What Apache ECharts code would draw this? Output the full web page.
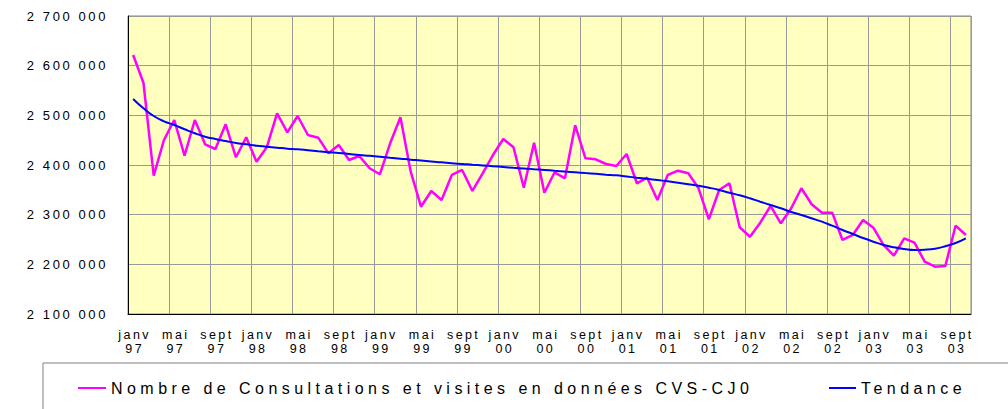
<!DOCTYPE html>
<html>
<head>
    <meta charset="utf-8" />
    <title>Consultations et visites CVS-CJ0</title>
    <script src="https://cdn.jsdelivr.net/npm/echarts@6/dist/echarts.min.js"></script>
    <style>
        html, body { margin: 0; padding: 0; background: #fff; }
        #main { width: 1008px; height: 409px; }
        /* espacement des lettres (rendu svg) */
        #main text[style*="13px"] { letter-spacing: 2.6px; }
        #main text[style*="12.5px"] { letter-spacing: 2.4px; }
        #main text[style*="16px"] { letter-spacing: 4.45px; }
    </style>
</head>
<body>
    <div id="main"></div>
    <script type="text/javascript">
        // mois et annees de l'axe
        var moisNoms = ['janv', 'févr', 'mars', 'avr', 'mai', 'juin', 'juil', 'août', 'sept', 'oct', 'nov', 'déc'];
        var annees = ['97', '98', '99', '00', '01', '02', '03'];

        // Nombre de consultations et visites CVS-CJ0 (janv 97 -> oct 03)
        var consultations = [
            2621500, 2565700, 2378500, 2450300, 2490600, 2418700, 2490600, 2441700, 2432200, 2482000, 2415500, 2455800,
            2406700, 2435600, 2504100, 2465800, 2498700, 2460400, 2455000, 2423600, 2440300, 2410100, 2418100, 2393400,
            2381300, 2443700, 2496000, 2386500, 2316000, 2347700, 2329500, 2379900, 2390000, 2347700, 2383300, 2420100,
            2452300, 2435600, 2354300, 2444900, 2344200, 2385300, 2373200, 2479900, 2413500, 2411500, 2402000, 2398000,
            2422200, 2363200, 2374400, 2329500, 2379900, 2388500, 2383300, 2353100, 2290700, 2349700, 2363200, 2274600,
            2255600, 2283800, 2317500, 2282600, 2312400, 2353100, 2320900, 2304000, 2304000, 2249000, 2259100, 2289300,
            2273800, 2238900, 2217400, 2252400, 2243600, 2205300, 2195200, 2196500, 2277800, 2259100
        ];

        // Tendance
        var tendance = [
            2532900, 2514200, 2498700, 2488000, 2480500, 2471900, 2463800, 2457000, 2452300, 2448300, 2444300, 2441700,
            2438900, 2436900, 2434900, 2432900, 2431600, 2429600, 2427600, 2425800, 2424200, 2422200, 2420100, 2418500,
            2416700, 2414700, 2412700, 2410700, 2409100, 2407000, 2405400, 2403400, 2402200, 2400600, 2399200, 2397600,
            2396000, 2394400, 2393000, 2391400, 2390000, 2388400, 2386800, 2385300, 2383700, 2382200, 2380600, 2379200,
            2376800, 2374400, 2372200, 2369800, 2367200, 2364400, 2361400, 2358300, 2354300, 2349700, 2344200, 2339000,
            2332900, 2326100, 2319500, 2312800, 2305400, 2299400, 2292700, 2285900, 2277800, 2269100, 2261100, 2253000,
            2245600, 2238900, 2234200, 2230900, 2228900, 2229500, 2231500, 2236300, 2243000, 2252400
        ];

        var nomSerie1 = 'Nombre de Consultations et visites en données CVS-CJ0';
        var nomSerie2 = 'Tendance';

        var categories = [];
        for (var i = 0; i < consultations.length; i++) {
            categories.push(moisNoms[i % 12] + '\n' + annees[Math.floor(i / 12)]);
        }

        //separateur de milliers
        function formatMilliers(v) {
            return String(v).replace(/\B(?=(\d{3})+(?!\d))/g, ' ');
        }

        var police = 'Liberation Sans, Arial, sans-serif';
        var myChart = echarts.init(document.getElementById('main'), null, { renderer: 'svg' });

        var option = {
            animation: false,
            backgroundColor: '#ffffff',
            grid: {
                left: 128,
                right: 37,
                top: 16,
                bottom: 95,
                show: true,
                backgroundColor: '#FFFFC0',
                borderColor: '#888888',
                borderWidth: 1
            },
            graphic: [{
                type: 'rect',
                z: 0,
                shape: { x: 43, y: 363, width: 1000, height: 60 },
                style: { fill: '#ffffff', stroke: '#808080', lineWidth: 1 }
            }],
            legend: [{
                data: [nomSerie1],
                left: 78,
                top: 380,
                padding: 0,
                icon: 'rect',
                itemWidth: 28,
                itemHeight: 2,
                z: 5,
                textStyle: { fontSize: 16, color: '#000', fontFamily: police }
            }, {
                data: [nomSerie2],
                left: 829,
                top: 380,
                padding: 0,
                icon: 'rect',
                itemWidth: 27,
                itemHeight: 2,
                z: 5,
                textStyle: { fontSize: 16, color: '#000', fontFamily: police }
            }],
            xAxis: {
                type: 'category',
                boundaryGap: true,
                data: categories,
                axisLine: { lineStyle: { color: '#000', width: 1 } },
                axisTick: { show: false },
                axisLabel: {
                    interval: 3,
                    margin: 14,
                    color: '#000',
                    fontSize: 12.5,
                    lineHeight: 14,
                    fontFamily: police,
                    padding: [0, 0, 0, 3]
                },
                splitLine: {
                    show: true,
                    interval: 3,
                    lineStyle: { color: '#999999', width: 1 }
                }
            },
            yAxis: {
                type: 'value',
                min: 2100000,
                max: 2700000,
                interval: 100000,
                axisLine: { show: true, lineStyle: { color: '#000', width: 1 } },
                axisTick: { show: false },
                axisLabel: {
                    margin: 20,
                    color: '#000',
                    fontSize: 13,
                    fontFamily: police,
                    formatter: formatMilliers
                },
                splitLine: { show: true, lineStyle: { color: '#999999', width: 1 } }
            },
            series: [{
                name: nomSerie1,
                type: 'line',
                data: consultations,
                symbol: 'none',
                z: 3,
                itemStyle: { color: '#FF00FF' },
                lineStyle: { color: '#FF00FF', width: 2.5 }
            }, {
                name: nomSerie2,
                type: 'line',
                data: tendance,
                symbol: 'none',
                smooth: true,
                z: 4,
                itemStyle: { color: '#0000FF' },
                lineStyle: { color: '#0000FF', width: 2 }
            }]
        };

        myChart.setOption(option);
    </script>
</body>
</html>
